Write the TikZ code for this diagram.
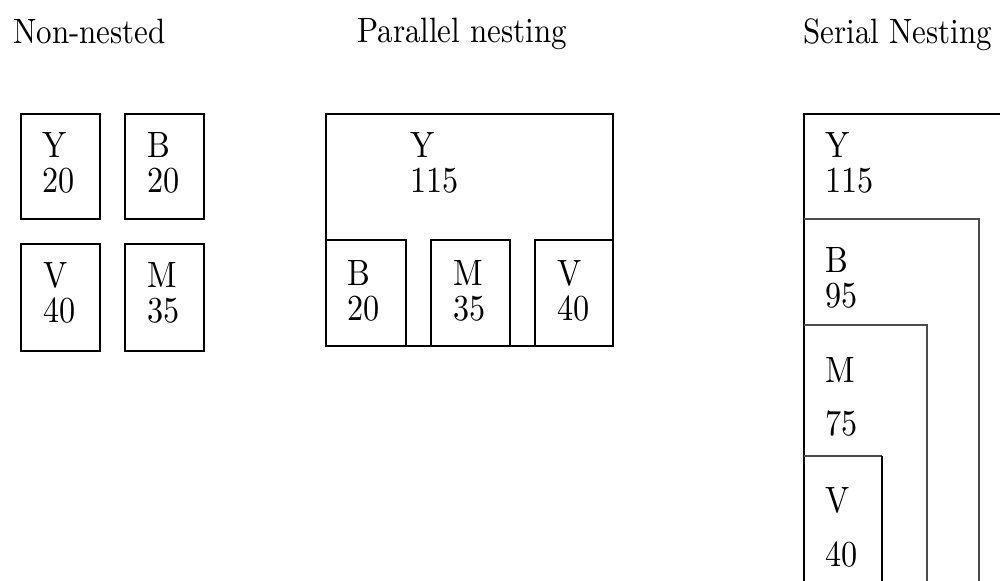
\documentclass[tikz,border=0pt]{standalone}
\usepackage{fontspec}
\setmainfont{lmroman10-regular.otf}[FakeStretch=0.88]
\usepackage{tikz}
\usetikzlibrary{positioning}
\tikzset{
  boxline/.style={line width=1.1pt},
  innerline/.style={line width=0.7pt, color=black!70},
  heading/.style={anchor=north west, inner sep=0pt, font=\fontsize{17.6}{21}\selectfont},
  boxtext/.style={anchor=north west, inner sep=0pt, align=left, font=\fontsize{18.3}{17.5}\selectfont}
}

\begin{document}
\begin{tikzpicture}[x=0.5pt, y=-0.5pt]
  \useasboundingbox (0,0) rectangle (1000,581);
  % headings
  \node[heading] (nonnested) at (13,19) {Non-nested};
  \node[heading] (parallel) at (357,18) {Parallel nesting};
  \node[heading] (serial) at (803,18) {Serial Nesting};

  % non-nested
  \draw[boxline] (21,114) rectangle (100,219);
  \draw[boxline] (125,114) rectangle (204,219);
  \draw[boxline] (21,244) rectangle (100,351);
  \draw[boxline] (125,244) rectangle (204,351);
  \node[boxtext] (ya) at (42,132) {Y\\20};
  \node[boxtext] (ba) at (147,132) {B\\20};
  \node[boxtext] (va) at (43,262) {V\\40};
  \node[boxtext] (ma) at (147,262) {M\\35};

  % parallel nesting
  \draw[boxline] (326,346) -- (326,114) -- (613,114) -- (613,346);
  \draw[boxline] (326,240) rectangle (406,346);
  \draw[boxline] (431,240) rectangle (510,346);
  \draw[boxline] (535,240) rectangle (613,346);
  \draw[boxline] (406,346) -- (431,346) (510,346) -- (535,346);
  \node[boxtext] (yb) at (410,132) {Y\\115};
  \node[boxtext] (bb) at (347,260) {B\\20};
  \node[boxtext] (mb) at (453,260) {M\\35};
  \node[boxtext] (vb) at (557,260) {V\\40};

  % serial nesting
  \draw[boxline] (804,581) -- (804,114) -- (1000,114);
  \draw[innerline] (804,219) -- (979,219) -- (979,581);
  \draw[innerline] (804,325) -- (927,325) -- (927,581);
  \draw[innerline] (804,456) -- (882,456);
  \draw[boxline] (882,456) -- (882,581);
  \node[boxtext] (yc) at (825,132) {Y\\115};
  \node[boxtext] (bc) at (825,247) {B\\95};
  \node[boxtext] (mc) at (825,357) {M\\[9pt]75};
  \node[boxtext] (vc) at (825,487) {V\\[9.5pt]40};
\end{tikzpicture}
\end{document}
